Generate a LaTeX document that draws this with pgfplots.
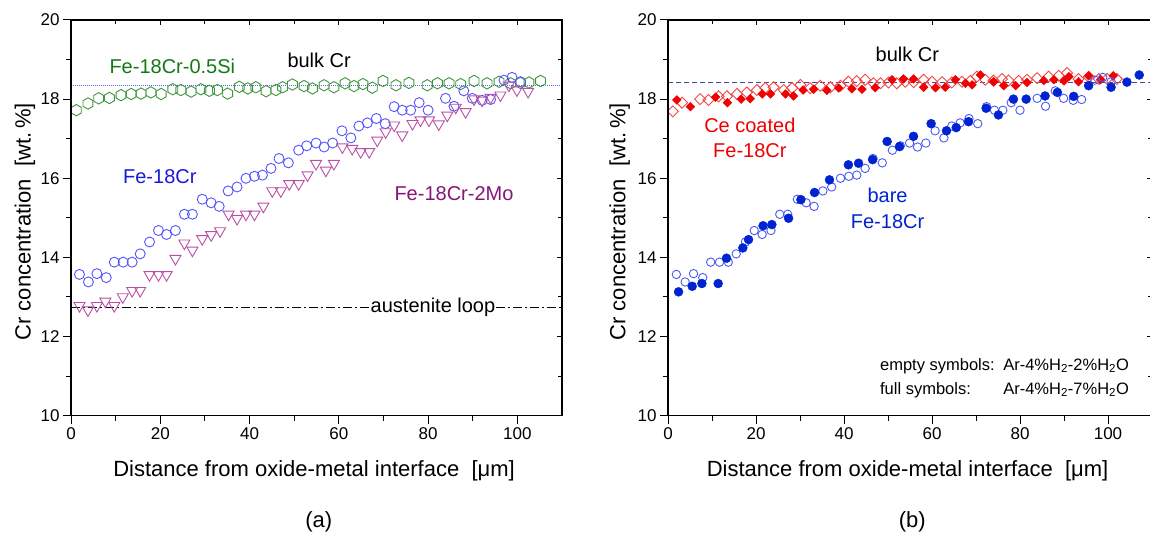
\documentclass[border=0pt]{standalone}
\usepackage{pgfplots}
\pgfplotsset{compat=1.18}
\usepackage{fontspec}
\setmainfont{Liberation Sans}
\usetikzlibrary{plotmarks}

\pgfdeclareplotmark{hexagon}{%
  \pgfpathmoveto{\pgfqpointpolar{90}{\pgfplotmarksize}}%
  \pgfpathlineto{\pgfqpointpolar{150}{\pgfplotmarksize}}%
  \pgfpathlineto{\pgfqpointpolar{210}{\pgfplotmarksize}}%
  \pgfpathlineto{\pgfqpointpolar{270}{\pgfplotmarksize}}%
  \pgfpathlineto{\pgfqpointpolar{330}{\pgfplotmarksize}}%
  \pgfpathlineto{\pgfqpointpolar{30}{\pgfplotmarksize}}%
  \pgfpathclose\pgfusepathqstroke}

\definecolor{hexgreen}{RGB}{60,150,60}
\definecolor{txtgreen}{RGB}{20,120,20}
\definecolor{circblue}{RGB}{85,85,250}
\definecolor{txtblue}{RGB}{25,25,220}
\definecolor{tripurple}{RGB}{185,80,165}
\definecolor{txtpurple}{RGB}{135,20,120}
\definecolor{openred}{RGB}{245,70,70}
\definecolor{fullred}{RGB}{240,0,0}
\definecolor{fullblue}{RGB}{0,35,210}
\definecolor{openblue}{RGB}{75,90,240}
\definecolor{bulkL}{RGB}{100,100,225}
\definecolor{bulkR}{RGB}{70,70,160}

\pgfplotstableread{
x y
1.2 17.72
3.8 17.89
6.2 18.02
8.6 18.03
11.2 18.10
13.5 18.13
15.7 18.14
17.9 18.17
20.2 18.13
22.8 18.25
24.6 18.23
26.9 18.19
29.1 18.25
31.0 18.21
32.8 18.23
35.1 18.14
37.7 18.31
39.6 18.27
41.4 18.30
43.7 18.20
45.9 18.23
47.4 18.30
49.6 18.37
52.2 18.33
54.1 18.27
56.7 18.35
58.9 18.30
61.4 18.40
63.4 18.33
65.4 18.38
67.5 18.29
69.9 18.46
72.8 18.35
75.7 18.41
79.8 18.35
82.1 18.40
84.7 18.40
87.3 18.38
90.3 18.46
93.2 18.40
95.9 18.44
98.5 18.40
100.7 18.41
102.6 18.42
105.2 18.46
}\siData

\pgfplotstableread{
x y
1.9 13.57
3.9 13.38
5.8 13.59
7.9 13.49
9.7 13.88
11.7 13.88
13.7 13.88
15.5 14.09
17.6 14.39
19.6 14.68
21.4 14.58
23.4 14.68
25.4 15.09
27.2 15.09
29.4 15.47
31.4 15.38
33.2 15.29
35.2 15.68
37.2 15.78
39.2 16.00
41.1 16.05
42.9 16.08
44.8 16.25
46.6 16.50
48.7 16.39
51.0 16.71
52.8 16.82
54.9 16.89
56.7 16.79
58.6 16.89
60.7 17.20
62.7 17.02
64.5 17.32
66.4 17.40
68.4 17.51
70.4 17.38
72.4 17.81
74.2 17.72
76.1 17.72
78.0 17.91
80.0 17.72
83.9 18.02
85.8 17.82
88.0 18.21
89.9 18.02
92.1 17.97
94.0 17.99
97.0 18.48
98.8 18.55
100.7 18.44
}\crData

\pgfplotstableread{
x y
1.9 12.78
3.8 12.67
5.8 12.78
7.7 12.89
9.7 12.78
11.6 13.00
13.7 13.16
15.5 13.16
17.6 13.56
19.6 13.56
21.4 13.56
23.4 13.97
25.4 14.36
27.2 14.18
29.4 14.47
31.4 14.57
33.4 14.67
35.3 15.09
37.2 14.98
39.2 15.09
41.1 15.09
43.1 15.29
45.1 15.68
47.0 15.68
48.9 15.86
51.0 15.86
53.0 16.08
54.9 16.37
57.1 16.20
58.9 16.37
60.8 16.79
63.0 16.75
64.9 16.67
66.8 16.67
68.6 16.96
70.5 17.17
72.4 17.34
74.2 17.09
76.5 17.38
78.3 17.47
80.2 17.47
82.4 17.37
84.3 17.59
86.2 17.79
88.4 17.68
90.3 18.00
92.1 17.97
94.0 18.04
96.2 18.10
98.1 18.35
99.9 18.23
102.4 18.19
}\moData

\pgfplotstableread{
x y
1.1 17.69
3.2 17.91
7.3 18.00
9.2 17.98
11.5 18.07
13.4 18.07
15.7 18.13
17.9 18.17
20.2 18.23
22.1 18.28
24.0 18.30
26.3 18.23
28.2 18.28
30.1 18.36
32.3 18.28
34.6 18.34
36.9 18.30
39.2 18.34
41.0 18.44
42.9 18.46
44.8 18.49
46.7 18.40
48.3 18.40
50.1 18.42
52.0 18.40
53.9 18.44
55.8 18.43
58.1 18.49
60.0 18.44
62.3 18.43
64.5 18.42
66.8 18.44
68.7 18.46
70.2 18.57
72.1 18.49
74.0 18.47
75.9 18.51
77.4 18.47
79.7 18.46
81.6 18.49
83.9 18.53
86.5 18.57
88.8 18.59
90.7 18.66
93.3 18.51
95.6 18.56
97.9 18.51
99.8 18.51
102.0 18.51
}\ceOpen

\pgfplotstableread{
x y
2.0 17.98
5.1 17.81
10.8 18.05
13.5 17.91
16.6 18.00
18.7 18.01
21.4 18.13
23.3 18.13
26.7 18.13
28.5 18.08
30.7 18.23
33.1 18.25
36.1 18.22
38.8 18.28
41.8 18.26
44.1 18.25
47.1 18.29
50.9 18.49
53.5 18.51
55.8 18.51
58.1 18.30
60.8 18.29
63.0 18.30
65.3 18.49
67.6 18.40
69.1 18.36
71.0 18.61
74.0 18.44
76.3 18.34
79.0 18.34
81.6 18.42
85.4 18.47
87.7 18.49
90.0 18.46
91.1 18.57
93.3 18.44
95.6 18.59
98.3 18.49
101.2 18.59
}\ceFull

\pgfplotstableread{
x y
2.4 13.13
5.5 13.27
7.7 13.34
11.4 13.34
13.3 13.98
17.0 14.24
18.3 14.45
21.6 14.80
23.6 14.83
27.4 14.99
30.2 15.46
33.3 15.64
36.7 15.96
41.0 16.34
43.3 16.38
46.5 16.47
49.8 16.93
52.6 16.80
55.8 17.06
59.8 17.38
63.3 17.20
65.5 17.28
68.3 17.43
72.3 17.77
75.1 17.60
78.5 18.00
81.4 18.00
85.7 18.08
88.5 18.17
92.2 18.07
95.6 18.34
100.7 18.30
104.3 18.43
107.1 18.61
}\bareFull

\pgfplotsset{
  panel/.style={
    scale only axis, anchor=south west,
    height=395.7pt,
    xmin=0, xmax=110, ymin=10, ymax=20,
    xtick={0,20,...,100}, ytick={10,12,...,20},
    minor x tick num=1, minor y tick num=1,
    axis line style={line width=1.3pt},
    tick style={black, line width=1pt},
    clip=false,
  },
  mainpanel/.style={
    panel,
    xtick pos=bottom, ytick pos=left, tick align=outside,
    major tick length=8pt, minor tick length=5pt,
    /pgf/number format/assume math mode=true,
    ticklabel style={font=\fontsize{17}{17}\selectfont},
    label style={font=\fontsize{22}{22}\selectfont},
    xlabel={Distance from oxide-metal interface\ \ [\symbol{"03BC}m]},
    ylabel={Cr concentration\ \ [wt.\,\%]},
    xlabel style={at={(axis description cs:0.495,-0.139)}, anchor=center},
  },
  overpanel/.style={
    panel,
    xtick pos=top, ytick pos=right, tick align=inside,
    major tick length=5pt, minor tick length=4pt,
    xticklabels={}, yticklabels={},
  },
}

\begin{document}
\begin{tikzpicture}
\useasboundingbox (0,0) rectangle (1150pt,534pt);

% ---------------- panel (a) ----------------
\begin{axis}[mainpanel, at={(71pt,118.3pt)}, width=491pt,
  ylabel style={at={(axis description cs:-0.0937,0.49)}, anchor=center}]
\addplot[bulkL, densely dotted, line width=1pt] coordinates {(0,18.35) (110,18.35)};
\addplot[black, line width=1pt, dash pattern=on 9pt off 3pt on 2pt off 3pt] coordinates {(0,12.74) (110,12.74)};
\addplot[only marks, mark=hexagon, mark size=5.7pt, hexgreen, mark options={line width=0.9pt}] table {\siData};
\addplot[only marks, mark=o, mark size=5pt, circblue, mark options={line width=0.9pt}] table {\crData};
\addplot[only marks, mark=triangle, mark size=6.4pt, tripurple, mark options={line width=0.9pt, rotate=180}] table {\moData};
\node[font=\fontsize{20}{20}\selectfont, text=txtgreen] at (axis cs:22.7,18.82) {Fe-18Cr-0.5Si};
\node[font=\fontsize{20}{20}\selectfont, text=black] at (axis cs:55.6,18.99) {bulk Cr};
\node[font=\fontsize{20}{20}\selectfont, text=txtblue] at (axis cs:19.9,16.03) {Fe-18Cr};
\node[font=\fontsize{20}{20}\selectfont, text=txtpurple] at (axis cs:85.8,15.61) {Fe-18Cr-2Mo};
\node[font=\fontsize{20}{20}\selectfont, text=black, fill=white, inner xsep=0pt, inner ysep=0pt] at (axis cs:81.1,12.74) {austenite loop};
\node[font=\fontsize{22}{22}\selectfont] at (axis cs:55.5,10) [yshift=-106pt] {(a)};
\end{axis}
\begin{axis}[overpanel, at={(71pt,118.3pt)}, width=491pt]
\end{axis}

% ---------------- panel (b) ----------------
\begin{axis}[mainpanel, at={(668pt,118.3pt)}, width=484pt,
  ylabel style={at={(axis description cs:-0.1,0.49)}, anchor=center}]
\addplot[bulkR, dashed, line width=1pt, dash pattern=on 5pt off 3pt] coordinates {(0,18.42) (110,18.42)};
\addplot[only marks, mark=square, mark size=3.9pt, openred, mark options={line width=0.9pt, rotate=45}] table {\ceOpen};
\addplot[only marks, mark=square*, mark size=3.1pt, fullred, mark options={rotate=45}] table {\ceFull};
\addplot[only marks, mark=o, mark size=4.2pt, openblue, mark options={line width=0.9pt}] table {\crData};
\addplot[only marks, mark=*, mark size=4.5pt, fullblue] table {\bareFull};
\node[font=\fontsize{20}{20}\selectfont, text=black] at (axis cs:54.4,19.12) {bulk Cr};
\node[font=\fontsize{20}{25}\selectfont, text=fullred, align=center] at (axis cs:18.6,17.03) {Ce coated\\Fe-18Cr};
\node[font=\fontsize{20}{25.5}\selectfont, text=fullblue, align=center] at (axis cs:49.9,15.24) {bare\\Fe-18Cr};
\node[font=\fontsize{16.5}{16.5}\selectfont, anchor=base west] at (axis cs:47.4,11.15) {empty symbols:};
\node[font=\fontsize{16.5}{16.5}\selectfont, anchor=base west] at (axis cs:75.4,11.15) {Ar-4\%H\textsubscript{2}-2\%H\textsubscript{2}O};
\node[font=\fontsize{16.5}{16.5}\selectfont, anchor=base west] at (axis cs:47.4,10.54) {full symbols:};
\node[font=\fontsize{16.5}{16.5}\selectfont, anchor=base west] at (axis cs:75.4,10.54) {Ar-4\%H\textsubscript{2}-7\%H\textsubscript{2}O};
\node[font=\fontsize{22}{22}\selectfont] at (axis cs:55.5,10) [yshift=-106pt] {(b)};
\end{axis}
\begin{axis}[overpanel, at={(668pt,118.3pt)}, width=484pt]
\end{axis}
\end{tikzpicture}
\end{document}
